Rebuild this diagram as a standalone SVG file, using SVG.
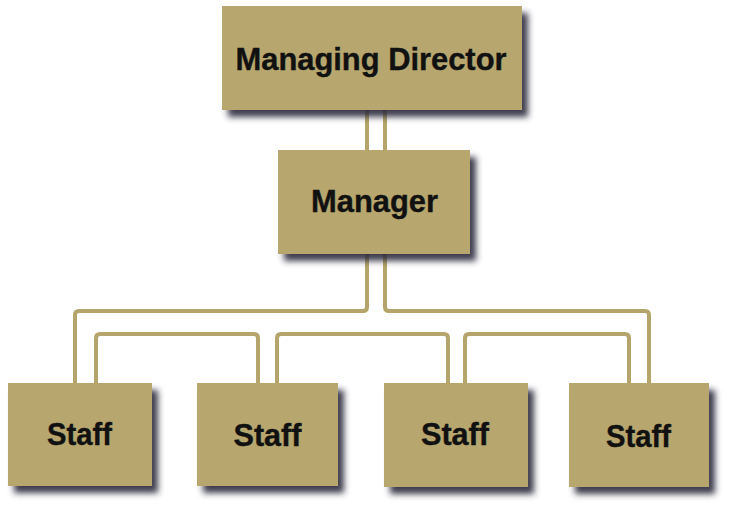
<svg xmlns="http://www.w3.org/2000/svg" width="736" height="508" viewBox="0 0 736 508">
<defs>
<filter id="sh" x="-10%" y="-10%" width="130%" height="140%">
<feDropShadow dx="6" dy="7" stdDeviation="3" flood-color="#2b2b3a" flood-opacity="0.9"/>
</filter>
</defs>
<style>
.box{fill:#B7A76E;filter:url(#sh)}
.lbl{font-family:"Liberation Sans",Arial,sans-serif;font-weight:bold;font-size:32px;fill:#111111;stroke:#111111;stroke-width:0.4;text-anchor:middle}
.con{fill:none;stroke:#B5A56C;stroke-width:4;stroke-linejoin:round}
</style>
<rect width="736" height="508" fill="#ffffff"/>
<g id="connectors">
<path class="con" d="M367,110 V152"/>
<path class="con" d="M385,110 V152"/>
<path class="con" d="M367,252 V307 Q367,311 363,311 H79 Q75,311 75,315 V385"/>
<path class="con" d="M385,252 V307 Q385,311 389,311 H645 Q649,311 649,315 V385"/>
<path class="con" d="M96,385 V338 Q96,334 100,334 H254 Q258,334 258,338 V385"/>
<path class="con" d="M277,385 V338 Q277,334 281,334 H444 Q448,334 448,338 V385"/>
<path class="con" d="M465,385 V338 Q465,334 469,334 H625 Q629,334 629,338 V385"/>
</g>
<g id="md">
<rect class="box" x="222" y="6" width="300" height="104"/>
<text class="lbl" x="371" y="70" textLength="271" lengthAdjust="spacingAndGlyphs">Managing Director</text>
</g>
<g id="manager">
<rect class="box" x="278" y="150" width="192" height="104"/>
<text class="lbl" x="374.5" y="212" textLength="127" lengthAdjust="spacingAndGlyphs">Manager</text>
</g>
<g id="staff1">
<rect class="box" x="8" y="383" width="144" height="103"/>
<text class="lbl" x="79.5" y="445" textLength="65" lengthAdjust="spacingAndGlyphs">Staff</text>
</g>
<g id="staff2">
<rect class="box" x="197" y="383" width="141" height="103"/>
<text class="lbl" x="267.5" y="446" textLength="68" lengthAdjust="spacingAndGlyphs">Staff</text>
</g>
<g id="staff3">
<rect class="box" x="384" y="383" width="144" height="104"/>
<text class="lbl" x="455" y="445" textLength="68" lengthAdjust="spacingAndGlyphs">Staff</text>
</g>
<g id="staff4">
<rect class="box" x="569" y="383" width="140" height="104"/>
<text class="lbl" x="638.5" y="447" textLength="65" lengthAdjust="spacingAndGlyphs">Staff</text>
</g>
</svg>
